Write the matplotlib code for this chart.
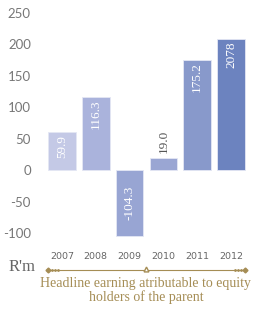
import numpy as np
import matplotlib
matplotlib.use("Agg")
import matplotlib.pyplot as plt

plt.rcParams["axes.unicode_minus"] = False

years = ["2007", "2008", "2009", "2010", "2011", "2012"]
values = [59.9, 116.3, -104.3, 19.0, 175.2, 207.8]
labels = ["59.9", "116.3", "-104.3", "19.0", "175.2", "2078"]
colors = ["#c4c9e6", "#aab3dc", "#98a5d3", "#9aa6d3", "#8899cb", "#6c83bf"]
yticks = [-100, -50, 0, 50, 100, 150, 200, 250]

W, H = 256, 315
fig = plt.figure(figsize=(W / 100, H / 100), dpi=100)
# axes placed in pixel terms
left, right, top, bottom = 43.4, 249.6, 5, 240.6
ax = fig.add_axes([left / W, 1 - bottom / H, (right - left) / W, (bottom - top) / H])

x = np.arange(len(years))
ax.bar(x, values, width=0.82, color=colors, edgecolor="#e4e7f4", linewidth=0.6)

for xi, v, lab in zip(x, values, labels):
    if v < 0:
        ax.text(xi, v / 2, lab, rotation=90, ha="center", va="center",
                color="white", fontsize=9.5, family="Liberation Serif")
    elif v < 40:
        ax.text(xi, v + 8, lab, rotation=90, ha="center", va="bottom",
                color="#555555", fontsize=9.5, family="Liberation Serif")
    else:
        ax.text(xi, v - 4, lab, rotation=90, ha="center", va="top",
                color="white", fontsize=9.5, family="Liberation Serif")

ax.set_xlim(-0.55, 5.55)
ax.set_ylim(-112, 262)
ax.set_xticks(x)
ax.set_xticklabels(years)
ax.set_yticks(yticks)
ax.tick_params(axis="x", length=0, pad=8, labelsize=6.8, labelcolor="#666666")
ax.tick_params(axis="y", length=0, pad=9, labelsize=9.5, labelcolor="#777777")
for t in ax.get_yticklabels():
    t.set_family("Lato")
for s in ax.spines.values():
    s.set_visible(False)

gold = "#a58d55"
fig.text(9 / W, 1 - 267 / H, "R'm", fontsize=12, color="#666666",
         family="Liberation Serif", va="center", ha="left")

# decorative arrow line under the years
ly = 1 - 270 / H
fig.add_artist(plt.Line2D([48 / W, 245 / W], [ly, ly], color=gold, linewidth=0.8))
fig.add_artist(plt.Line2D([48 / W, 245 / W], [ly, ly], color=gold, linestyle="none",
                          marker="D", markersize=2.5))
fig.add_artist(plt.Line2D([146 / W], [ly + 1.5 / H], color=gold, linestyle="none",
                          marker="^", markersize=3.5, markerfacecolor="white"))
fig.add_artist(plt.Line2D([52 / W, 55 / W, 58 / W, 235 / W, 238 / W, 241 / W],
                          [ly] * 6, color=gold, linestyle="none", marker="o",
                          markersize=1))

fig.text(146 / W, 1 - 290.5 / H,
         "Headline earning atributable to equity\nholders of the parent",
         fontsize=10, color=gold, family="Liberation Serif", ha="center",
         va="center", linespacing=1.05)

fig.savefig("out.png", dpi=100)
